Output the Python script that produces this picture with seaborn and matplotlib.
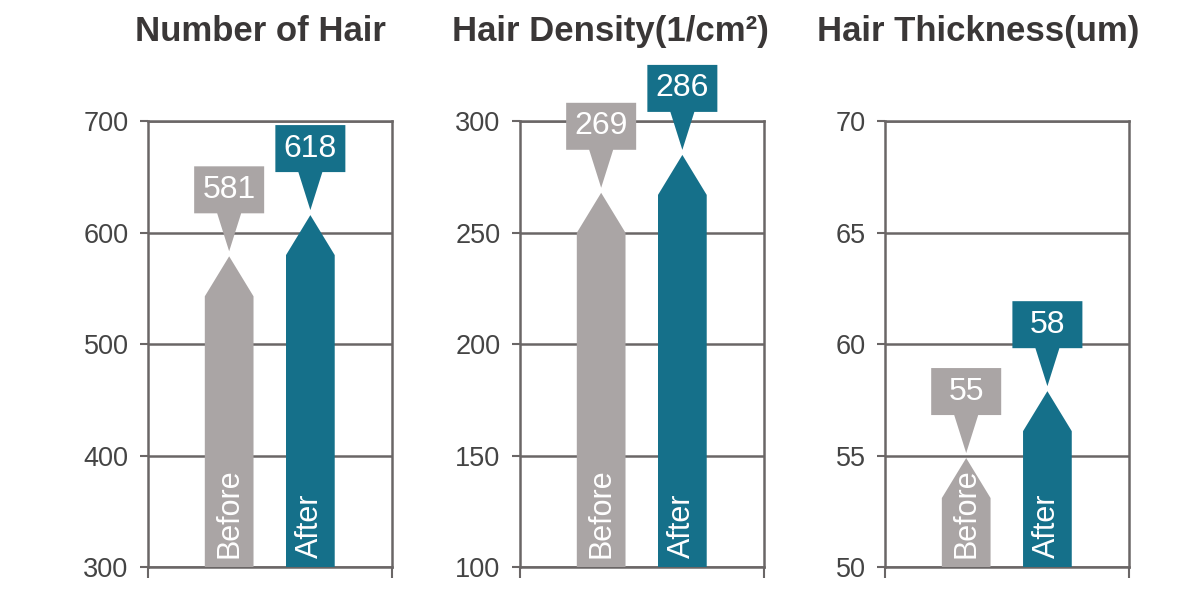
import numpy as np
import pandas as pd
import matplotlib
matplotlib.use("Agg")
import matplotlib.pyplot as plt
from matplotlib.patches import Polygon
import seaborn as sns

titles = ["Number of Hair", "Hair Density(1/cm\u00b2)", "Hair Thickness(um)"]
groups = ["Before", "After"]
before = [581, 269, 55]
after = [618, 286, 58]
y_ranges = [(300, 700), (100, 300), (50, 70)]
y_steps = [100, 50, 5]

colors = {"Before": "#aaa5a5", "After": "#15708a"}
line_col = "#6a6666"

sns.set_theme(style="white")
plt.rcParams["font.family"] = ["Liberation Sans", "DejaVu Sans"]

fig = plt.figure(figsize=(12, 6), dpi=100)
lefts = [0.1233, 0.4333, 0.7375]
title_x = [0.2167, 0.509, 0.815]
ax_w, ax_h, ax_b = 0.203, 0.743, 0.055

for i in range(3):
    ax = fig.add_axes([lefts[i], ax_b, ax_w, ax_h])
    df = pd.DataFrame({"group": groups, "value": [before[i], after[i]]})
    sns.barplot(data=df, x="group", y="value", hue="group", palette=colors,
                width=0.6, saturation=1, legend=False, ax=ax)
    ymin, ymax = y_ranges[i]
    ax.set_ylim(ymin, ymax)
    ax.set_xlim(-1, 2)
    ax.set_yticks(np.arange(ymin, ymax + 1, y_steps[i]))
    ax.set_xticks([-1, 2])
    ax.set_xticklabels([])
    ax.set_xlabel("")
    ax.set_ylabel("")

    # pixel -> data conversions
    py = (ymax - ymin) / (ax_h * 600)
    px = 3 / (ax_w * 1200)
    gap = 2.5 * py

    for bar, name in zip(ax.patches, groups):
        col = bar.get_facecolor()
        x0 = bar.get_x()
        x1 = x0 + bar.get_width()
        xc = (x0 + x1) / 2
        val = bar.get_height()
        bar.set_visible(False)

        top = val - gap
        shoulder = top - 40 * py
        ax.add_patch(Polygon([(x0, ymin), (x1, ymin), (x1, shoulder), (xc, top),
                              (x0, shoulder)], closed=True, facecolor=col,
                             edgecolor="none", zorder=3))
        ax.text(xc, ymin + 9 * py, name, rotation=90, ha="center", va="bottom",
                color="white", fontsize=22, zorder=4)

        # callout box with pointer
        tip = val + gap
        tw, th = 12 * px, 38 * py
        bw, bh = 35 * px, 47 * py
        pts = [(xc, tip), (xc + tw, tip + th), (xc + bw, tip + th),
               (xc + bw, tip + th + bh), (xc - bw, tip + th + bh),
               (xc - bw, tip + th), (xc - tw, tip + th)]
        ax.add_patch(Polygon(pts, closed=True, facecolor=col, edgecolor="none",
                             zorder=6, clip_on=False))
        ax.text(xc, tip + th + bh / 2, str(int(val)), ha="center", va="center",
                color="white", fontsize=23, zorder=7, clip_on=False)

    ax.yaxis.grid(True, color=line_col, lw=1.8)
    ax.set_axisbelow(True)
    for sp in ax.spines.values():
        sp.set_visible(True)
        sp.set_color(line_col)
        sp.set_linewidth(1.8)
    ax.tick_params(axis="y", direction="out", length=6, width=1.5, color=line_col,
                   labelsize=19.5, labelcolor="#444444", pad=8, left=True)
    ax.tick_params(axis="x", direction="out", length=8, width=1.5, color=line_col,
                   bottom=True)

    fig.text(title_x[i], 0.948, titles[i], ha="center", va="center",
             fontsize=25, fontweight="bold", color="#3a3737")

fig.savefig("out.png", dpi=100)
